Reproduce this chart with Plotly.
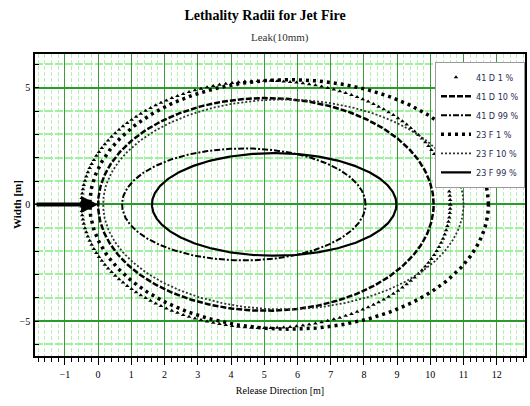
import numpy as np
import plotly.graph_objects as go

# Lethality contours: downwind extent (min/max along release axis) and max half-width
names = ["41 D 1 %", "41 D 10 %", "41 D 99 %", "23 F 1 %", "23 F 10 %", "23 F 99 %"]
x_min = [-0.5, 0.0, 0.72, -0.25, 0.15, 1.62]
x_max = [10.6, 10.1, 8.05, 11.75, 11.0, 8.98]
half_width = [5.3, 4.56, 2.4, 5.35, 4.5, 2.2]

x_ticks = list(range(-1, 13))
y_ticks = [-5, 0, 5]

styles = [
    dict(mode="markers", marker=dict(symbol="triangle-up", size=4, color="black")),
    dict(mode="lines", line=dict(color="black", width=2.5, dash="6px,2px")),
    dict(mode="lines", line=dict(color="black", width=2, dash="6px,2px,2px,2px")),
    dict(mode="lines", line=dict(color="black", width=3.5, dash="3px,4px")),
    dict(mode="lines", line=dict(color="#333333", width=1.8, dash="2px,2px")),
    dict(mode="lines", line=dict(color="black", width=2.2)),
]
n_pts = [180, 400, 400, 400, 400, 400]

fig = go.Figure()
for name, x0, x1, b, st, n in zip(names, x_min, x_max, half_width, styles, n_pts):
    t = np.linspace(0, 2 * np.pi, n)
    cx, a = (x0 + x1) / 2, (x1 - x0) / 2
    fig.add_trace(go.Scatter(x=cx + a * np.cos(t), y=b * np.sin(t), name=name,
                             hoverinfo="skip", **st))

serif = "Liberation Serif"
narrow = "DejaVu Sans Condensed, sans-serif"
fig.update_layout(
    width=530, height=406,
    margin=dict(l=35, r=3, t=54, b=50),
    paper_bgcolor="white", plot_bgcolor="white",
    font=dict(family=serif, size=11, color="black"),
    title=dict(text="<b>Lethality Radii for Jet Fire</b>", x=0.5, xanchor="center",
               y=1 - 15 / 406, yanchor="middle", font=dict(family=serif, size=14)),
    showlegend=True,
    legend=dict(x=1.0, xanchor="right", y=0.974, yanchor="top",
                bgcolor="white", bordercolor="#999999", borderwidth=1,
                font=dict(family=narrow, size=9, color="#2a2a50"),
                itemwidth=30),
    xaxis=dict(range=[-1.9, 12.85], tickvals=x_ticks, ticks="outside", ticklen=7,
               tickcolor="black", showline=True, linecolor="black", linewidth=1.5,
               mirror=True, zeroline=False, ticklabelstandoff=1,
               showgrid=True, gridcolor="#3c9c3c", gridwidth=1,
               minor=dict(dtick=0.2, tick0=0, ticks="outside", ticklen=4, tickcolor="black",
                          showgrid=True, gridcolor="#b4f2b4", griddash="4px,2px", gridwidth=1),
               title=dict(text="Release Direction [m]", font=dict(size=10), standoff=8),
               tickfont=dict(size=10)),
    yaxis=dict(range=[-6.5, 6.45], tickvals=y_ticks, ticks="inside", ticklen=4,
               tickcolor="black", showline=True, linecolor="black", linewidth=1.5,
               mirror=True, zeroline=False, ticklabelstandoff=1,
               showgrid=True, gridcolor="#2a9a2a", gridwidth=1.5,
               minor=dict(dtick=1, tick0=0, ticks="inside", ticklen=4, tickcolor="black",
                          showgrid=True, gridcolor="#9ff09f", griddash="8px,2px", gridwidth=2),
               tickfont=dict(size=10)),
    annotations=[
        dict(text="Leak(10mm)", xref="paper", yref="paper", x=0.5, y=(356 - 37) / 302,
             showarrow=False, font=dict(family=serif, size=11, color="#333333"),
             yanchor="middle"),
        dict(text="<b>Width [m]</b>", xref="paper", yref="paper", x=(17 - 35) / 492, y=0.5,
             textangle=-90, showarrow=False, font=dict(family=serif, size=11),
             xanchor="center", yanchor="middle"),
        dict(x=0, y=0, xref="x", yref="y", ax=-1.9, ay=0, axref="x", ayref="y",
             showarrow=True, arrowhead=2, arrowwidth=4, arrowsize=0.85,
             arrowcolor="black", standoff=0, text=""),
    ],
)

fig.write_html("out.html")
